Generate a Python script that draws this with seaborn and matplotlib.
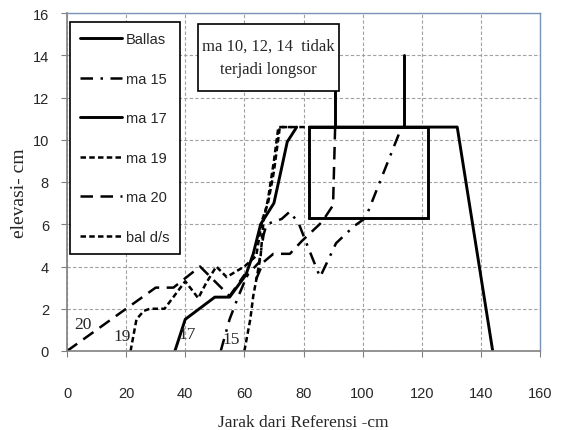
import matplotlib
matplotlib.use("Agg")
import matplotlib.pyplot as plt
import seaborn as sns
import pandas as pd

# Profile series: distance from reference (cm) and elevation (cm)
ballas_x = [82, 132, 144]
ballas_y = [10.6, 10.6, 0]

ma15_x = [52, 55, 58, 61, 65, 66.5, 67.5, 72.6, 75.4, 78.5, 81, 85.6, 89, 91, 97, 101, 113.2]
ma15_y = [0, 1.5, 2.6, 3.6, 4.2, 5.5, 6.0, 6.25, 6.6, 6.0, 5.1, 3.5, 4.5, 5.1, 5.9, 6.3, 10.6]

ma17_x = [36.5, 40, 50, 55, 60.5, 63, 65.5, 70, 72.5, 74.5, 77.7]
ma17_y = [0, 1.5, 2.55, 2.55, 3.6, 4.6, 6.0, 7.0, 8.6, 9.9, 10.6]

ma19_x = [21.5, 23.5, 26, 28, 33, 40, 44.4, 47, 50.5, 54, 60, 64, 66, 68, 70, 72, 81]
ma19_y = [0, 1.5, 1.9, 2.0, 2.0, 3.3, 2.5, 3.2, 4.0, 3.5, 4.0, 4.5, 6.2, 7.0, 8.5, 10.6, 10.6]

ma20_x = [0, 20, 30, 36, 45, 55, 60, 64, 66.4, 69.8, 75.4, 79.4, 86.2, 90, 90.7]
ma20_y = [0, 2, 3, 3, 4, 2.6, 3.6, 3.4, 4.2, 4.6, 4.6, 5.2, 6.1, 6.9, 10.6]

bal_ds_x = [60, 62, 63, 64.2, 65.5, 66.5, 68, 70, 71.5, 76]
bal_ds_y = [0, 1.5, 2.6, 3.5, 4.5, 6.2, 7.2, 9.0, 10.6, 10.6]

# Slide block outline and the two leader lines to the note
block_x = [82, 122, 122, 82, 82]
block_y = [6.3, 6.3, 10.6, 10.6, 6.3]
leader1_x = [90.7, 90.7]
leader1_y = [10.6, 12.3]
leader2_x = [114, 114]
leader2_y = [10.6, 14.0]

# Note box
note_x = [44.2, 92, 92, 44.2, 44.2]
note_y = [12.3, 12.3, 15.5, 15.5, 12.3]
note_text = "ma 10, 12, 14  tidak\nterjadi longsor"

# Curve tags near the toe
tag_text = ["20", "19", "17", "15"]
tag_x = [5.5, 18.8, 40.5, 55.5]
tag_y = [1.3, 0.7, 0.8, 0.55]

x_ticks = [0, 20, 40, 60, 80, 100, 120, 140, 160]
y_ticks = [0, 2, 4, 6, 8, 10, 12, 14, 16]

sns.set_theme(style="white")
plt.rcParams["font.family"] = ["Liberation Sans", "DejaVu Sans"]

fig = plt.figure(figsize=(5.64, 4.31), dpi=100)
ax = fig.add_axes([67 / 564, 1 - 352 / 431, 473 / 564, 338 / 431])

series = [
    ("Ballas", ballas_x, ballas_y, (None, None), 2.1),
    ("ma 15", ma15_x, ma15_y, (0, (5, 3, 1, 3)), 1.8),
    ("ma 17", ma17_x, ma17_y, (None, None), 2.1),
    ("ma 19", ma19_x, ma19_y, (0, (2.2, 1.3)), 1.8),
    ("ma 20", ma20_x, ma20_y, (0, (5, 3)), 1.8),
    ("bal d/s", bal_ds_x, bal_ds_y, (0, (2.2, 1.3)), 1.8),
]

for name, xs, ys, dash, lw in series:
    df = pd.DataFrame({"x": xs, "y": ys})
    sns.lineplot(data=df, x="x", y="y", sort=False, estimator=None, ax=ax,
                 color="black", lw=lw, label=name)
    line = ax.lines[-1]
    if dash[0] is not None:
        line.set_linestyle(dash)

for xs, ys in [(block_x, block_y), (leader1_x, leader1_y), (leader2_x, leader2_y)]:
    ax.plot(xs, ys, color="black", lw=2.1, solid_joinstyle="miter")

ax.fill(note_x, note_y, facecolor="white", edgecolor="black", lw=1.2, zorder=5)
ax.text(sum(note_x[:2]) / 2, sum(note_y[1:3]) / 2, note_text, ha="center", va="center",
        family="Liberation Serif", fontsize=12, linespacing=1.6, zorder=6)

for t, tx, ty in zip(tag_text, tag_x, tag_y):
    ax.text(tx, ty, t, ha="center", va="center", family="Liberation Serif", fontsize=12.5)

ax.set_xlim(0, 160)
ax.set_ylim(0, 16)
ax.set_xticks(x_ticks)
ax.set_yticks(y_ticks)
ax.grid(True, color="#a0a0a0", linestyle=(0, (3, 2)), lw=0.8)
ax.set_axisbelow(True)

ax.tick_params(axis="both", direction="out", length=4, width=0.8, color="#808080",
               labelsize=10.5, bottom=True, left=True)
ax.tick_params(axis="x", pad=21)
ax.tick_params(axis="y", pad=9)

for side in ["left", "bottom"]:
    ax.spines[side].set_color("#808080")
    ax.spines[side].set_linewidth(1.2)
for side in ["top", "right"]:
    ax.spines[side].set_color("#7a93b8")
    ax.spines[side].set_linewidth(1.0)

ax.set_xlabel("Jarak dari Referensi -cm", family="Liberation Serif", fontsize=12.5, labelpad=10)
ax.set_ylabel("elevasi- cm", family="Liberation Serif", fontsize=14)
ax.yaxis.set_label_coords(-0.083, 0.47)

leg = ax.legend(loc="upper left", bbox_to_anchor=(0.006, 0.973), fontsize=10.5,
                frameon=True, fancybox=False, edgecolor="black", framealpha=1,
                handlelength=2.9, handletextpad=0.25, labelspacing=1.75,
                borderpad=0.7, borderaxespad=0)
leg.get_frame().set_linewidth(1.2)
leg.set_zorder(7)

fig.savefig("out.png", dpi=100)
